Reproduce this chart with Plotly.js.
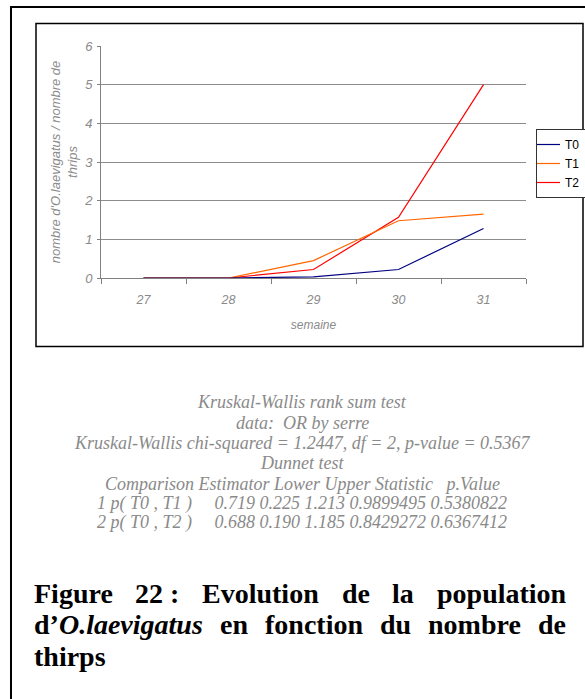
<!DOCTYPE html>
<html>
<head>
<meta charset="utf-8">
<script src="https://cdn.plot.ly/plotly-3.0.1.min.js"></script>
<style>
  html, body { margin: 0; padding: 0; background: #ffffff; }
  #chart { width: 585px; height: 699px; }
</style>
</head>
<body>
<div id="chart"></div>
<script>
// ---- data ----
var weeks = ['27', '28', '29', '30', '31'];
var seriesNames = ['T0', 'T1', 'T2'];
var t0 = [0, 0, 0.03, 0.22, 1.28];
var t1 = [0, 0, 0.45, 1.48, 1.65];
var t2 = [0, 0, 0.22, 1.57, 5.0];
var yTicks = [0, 1, 2, 3, 4, 5, 6];
var statLines = [
  'Kruskal-Wallis rank sum test',
  'data:  OR by serre',
  'Kruskal-Wallis chi-squared = 1.2447, df = 2, p-value = 0.5367',
  'Dunnet test',
  'Comparison Estimator Lower Upper Statistic   p.Value',
  '1 p( T0 , T1 )     0.719 0.225 1.213 0.9899495 0.5380822',
  '2 p( T0 , T2 )     0.688 0.190 1.185 0.8429272 0.6367412'
];
// caption words: [plain prefix, italic part]
var captionLines = [
  [['Figure', ''], ['22 :', ''], ['Evolution', ''], ['de', ''], ['la', ''], ['population', '']],
  [['d’', 'O.laevigatus'], ['en', ''], ['fonction', ''], ['du', ''], ['nombre', ''], ['de', '']],
  [['thirps', '']]
];

// ---- layout helpers (pixel -> paper) ----
var W = 585, H = 699;
var PL = 101, PR = 526, PT = 46, PB = 278;
function px(x) { return (x - PL) / (PR - PL); }
function py(y) { return (PB - y) / (PB - PT); }

var colors = ['#000080', '#FF6600', '#FF0000'];
var vals = [t0, t1, t2];
var traces = seriesNames.map(function (n, i) {
  return {
    type: 'scatter', mode: 'lines', name: n,
    x: weeks, y: vals[i],
    line: { color: colors[i], width: 1.2 },
    hoverinfo: 'x+y+name'
  };
});
// draw T0 on top at the zero baseline
traces = [traces[2], traces[1], traces[0]];

var annotations = [];
var statY = [402, 423, 443, 463, 484, 503, 522];
statLines.forEach(function (s, i) {
  annotations.push({
    xref: 'paper', yref: 'paper', x: px(302), y: py(statY[i]),
    xanchor: 'center', yanchor: 'middle', showarrow: false,
    text: s.replace(/ {2,}/g, function (m) { return m.replace(/ /g, '&nbsp;'); }),
    font: { family: 'Liberation Serif', size: 18, color: '#8a8a8a', style: 'italic' }
  });
});

// justified caption (word widths measured with canvas)
var CAP_SIZE = 28, CAP_L = 33, CAP_R = 565;
var capY = [593, 624, 656];
var ctx = document.createElement('canvas').getContext('2d');
function wordWidth(w) {
  ctx.font = 'bold ' + CAP_SIZE + 'px "Liberation Serif"';
  var a = ctx.measureText(w[0]).width;
  ctx.font = 'italic bold ' + CAP_SIZE + 'px "Liberation Serif"';
  return a + (w[1] ? ctx.measureText(w[1]).width : 0);
}
captionLines.forEach(function (words, li) {
  var widths = words.map(wordWidth);
  var total = widths.reduce(function (a, b) { return a + b; }, 0);
  var justify = li < captionLines.length - 1 && words.length > 1;
  var gap = justify ? (CAP_R - CAP_L - total) / (words.length - 1) : CAP_SIZE * 0.25;
  var x = CAP_L;
  words.forEach(function (w, wi) {
    annotations.push({
      xref: 'paper', yref: 'paper', x: px(x - 1), y: py(capY[li]),
      xanchor: 'left', yanchor: 'middle', showarrow: false,
      text: w[0] + (w[1] ? '<i>' + w[1] + '</i>' : ''),
      font: { family: 'Liberation Serif', size: CAP_SIZE, color: '#000000', weight: 'bold' }
    });
    x += widths[wi] + gap;
  });
});

var shapes = [
  { type: 'rect', xref: 'paper', yref: 'paper', x0: px(11), x1: px(620), y0: py(7), y1: py(740),
    line: { color: '#000000', width: 2 }, fillcolor: 'rgba(0,0,0,0)', layer: 'below' },
  { type: 'rect', xref: 'paper', yref: 'paper', x0: px(36), x1: px(583), y0: py(23.5), y1: py(346.5),
    line: { color: '#000000', width: 1.5 }, fillcolor: 'rgba(0,0,0,0)', layer: 'below' }
];

var layout = {
  width: W, height: H,
  margin: { l: PL, r: W - PR, t: PT, b: H - PB, pad: 0, autoexpand: false },
  paper_bgcolor: '#ffffff', plot_bgcolor: '#ffffff',
  showlegend: true,
  legend: {
    xref: 'container', yref: 'container',
    x: 536 / W, y: 1 - 129 / H, xanchor: 'left', yanchor: 'top',
    bgcolor: '#ffffff', bordercolor: '#333333', borderwidth: 1,
    font: { family: 'Liberation Sans', size: 12, color: '#000000' },
    traceorder: 'reversed', itemwidth: 30, tracegroupgap: 0, indentation: -12
  },
  xaxis: {
    type: 'category', tickson: 'boundaries', ticks: 'outside', ticklen: 5, tickcolor: '#808080',
    showline: true, linecolor: '#808080', linewidth: 1, showgrid: false, zeroline: false,
    range: [-0.5, 4.5], ticklabelstandoff: 10,
    tickfont: { family: 'Liberation Sans', size: 12.5, color: '#8a8a8a', style: 'italic' },
    title: { text: 'semaine', standoff: 14,
      font: { family: 'Liberation Sans', size: 12, color: '#8a8a8a', style: 'italic' } }
  },
  yaxis: {
    range: [0, 6], tickvals: yTicks, ticks: 'outside', ticklen: 3, tickcolor: '#808080',
    showline: true, linecolor: '#808080', linewidth: 1, ticklabelstandoff: 2,
    showgrid: true, gridcolor: '#8c8c8c', gridwidth: 1, zeroline: false,
    tickfont: { family: 'Liberation Sans', size: 13, color: '#8a8a8a', style: 'italic' },
    title: { text: 'nombre d\'O.laevigatus / nombre de<br>thrips', standoff: 3,
      font: { family: 'Liberation Sans', size: 13, color: '#8a8a8a', style: 'italic' } }
  },
  annotations: annotations,
  shapes: shapes
};

Plotly.newPlot('chart', traces, layout, { displayModeBar: false, staticPlot: true });
</script>
</body>
</html>
